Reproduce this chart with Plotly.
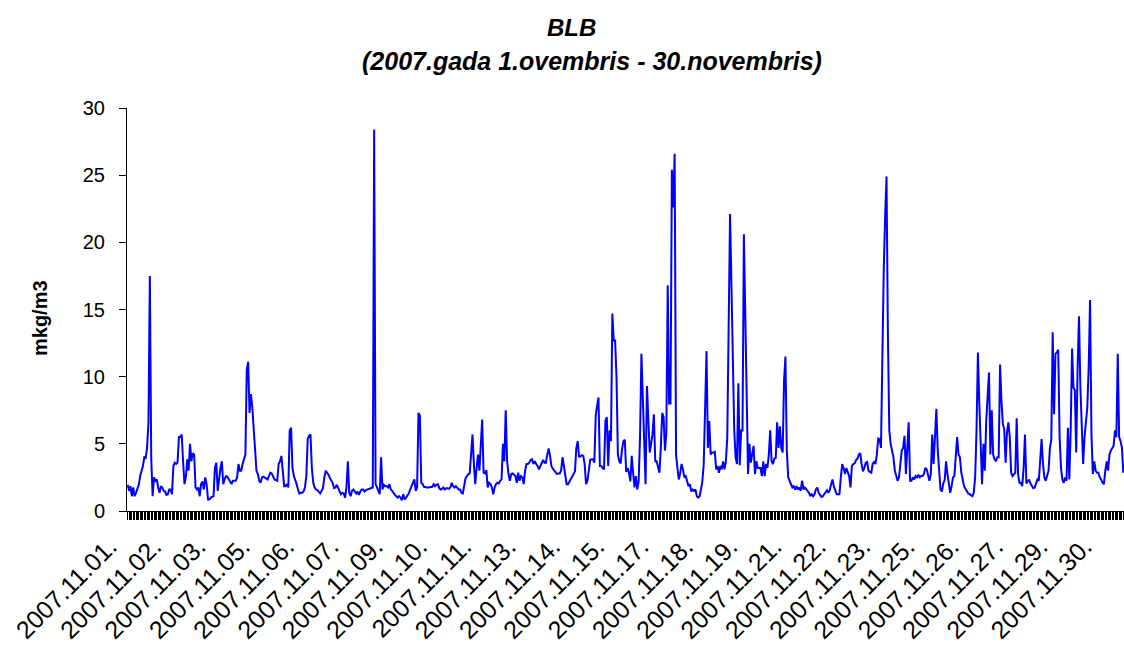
import plotly.graph_objects as go

# Hourly concentrations, 2007-11-01 .. 2007-11-30 (24 values per day)
day01 = [1.95, 1.5, 1.85, 1.1, 1.75, 1.1, 1.35, 1.6, 1.95, 2.6, 3.0, 3.35, 4.0, 3.95, 4.7, 6.6, 17.5, 3.95, 1.1, 2.5, 2.25, 2.35, 1.75, 1.35]
day02 = [1.85, 1.75, 1.5, 1.45, 1.2, 1.25, 1.6, 1.6, 1.25, 3.35, 3.6, 3.5, 3.6, 5.5, 5.5, 5.7, 3.7, 2.0, 2.5, 3.85, 3.0, 5.0, 3.7, 4.3]
day03 = [4.2, 1.75, 1.6, 1.75, 1.1, 2.0, 2.2, 1.6, 2.5, 2.0, 0.85, 0.85, 1.0, 1.05, 1.1, 3.2, 3.6, 1.5, 2.6, 3.2, 3.7, 2.0, 2.35, 2.6]
day04 = [2.55, 2.35, 2.1, 2.0, 2.25, 2.25, 2.25, 2.5, 3.5, 3.0, 3.0, 3.5, 3.95, 4.2, 10.5, 11.1, 7.3, 8.7, 7.7, 6.2, 4.5, 3.0, 2.75, 2.25]
day05 = [2.1, 2.5, 2.55, 2.5, 2.45, 2.35, 2.6, 2.85, 2.8, 2.6, 2.35, 2.3, 2.25, 3.5, 3.7, 4.1, 2.75, 1.85, 1.85, 2.0, 1.75, 6.0, 6.2, 3.2]
day06 = [2.6, 2.35, 2.0, 1.6, 1.3, 1.35, 1.35, 1.45, 1.75, 2.6, 5.35, 5.6, 5.7, 3.2, 2.1, 1.75, 1.6, 1.55, 1.45, 1.3, 1.5, 1.7, 2.5, 3.0]
day07 = [2.85, 2.7, 2.45, 2.3, 2.1, 1.7, 1.75, 1.95, 1.75, 1.5, 1.25, 1.35, 1.3, 1.0, 1.75, 3.7, 1.35, 1.1, 1.5, 1.6, 1.45, 1.3, 1.45, 1.2]
day08 = [1.45, 1.6, 1.6, 1.45, 1.55, 1.6, 1.6, 1.7, 1.75, 1.75, 28.4, 2.0, 1.75, 1.5, 1.25, 4.0, 1.6, 1.95, 1.85, 1.85, 1.75, 2.0, 1.6, 1.5]
day09 = [1.3, 1.2, 1.1, 1.0, 1.1, 1.0, 0.8, 1.25, 0.85, 1.0, 1.1, 1.3, 1.6, 1.85, 2.1, 2.35, 1.5, 1.75, 7.3, 7.1, 2.1, 2.0, 1.8, 1.75]
day10 = [1.75, 1.75, 1.75, 1.75, 1.8, 2.0, 1.85, 1.95, 2.0, 1.7, 1.6, 1.65, 1.75, 1.6, 1.7, 1.7, 1.65, 1.75, 2.1, 1.85, 1.75, 1.85, 1.75, 1.6]
day11 = [1.6, 1.35, 1.3, 2.0, 2.45, 2.6, 2.75, 2.8, 4.7, 5.7, 3.5, 2.0, 3.2, 4.2, 3.0, 4.5, 6.8, 2.85, 2.8, 3.05, 1.75, 2.1, 2.0, 1.75]
day12 = [1.25, 1.75, 2.0, 2.1, 2.05, 2.25, 2.35, 5.0, 3.7, 7.5, 3.7, 2.75, 2.25, 2.75, 2.8, 2.7, 2.6, 2.1, 2.85, 2.25, 2.6, 2.5, 2.0, 3.0]
day13 = [3.5, 3.5, 3.6, 3.8, 3.85, 3.5, 3.7, 3.5, 3.35, 3.1, 3.3, 3.55, 3.8, 3.6, 3.6, 4.2, 4.65, 4.1, 3.35, 3.15, 3.0, 2.85, 2.75, 2.8]
day14 = [2.8, 3.0, 4.0, 3.35, 2.6, 2.0, 2.0, 2.2, 2.45, 2.6, 2.8, 2.95, 4.7, 5.2, 4.0, 4.05, 4.15, 4.1, 3.5, 2.0, 2.25, 3.0, 3.8, 3.85]
day15 = [3.85, 3.6, 7.1, 7.85, 8.45, 3.35, 3.35, 3.2, 3.1, 6.7, 7.0, 3.35, 6.0, 5.2, 14.7, 12.7, 12.7, 10.0, 4.2, 3.7, 3.55, 4.6, 5.2, 5.3]
day16 = [2.9, 3.2, 2.85, 2.2, 4.1, 2.85, 1.75, 2.6, 1.6, 2.2, 5.5, 11.7, 8.7, 5.6, 2.0, 9.3, 6.7, 4.35, 5.0, 5.7, 7.2, 3.7, 3.7, 3.2]
day17 = [2.85, 4.7, 7.3, 7.0, 4.5, 5.8, 16.8, 8.0, 8.0, 25.4, 22.6, 26.6, 4.2, 3.2, 2.35, 2.8, 3.5, 3.1, 2.5, 2.6, 2.1, 1.85, 2.0, 1.45]
day18 = [1.6, 1.5, 1.6, 1.1, 1.0, 1.1, 1.6, 2.2, 3.5, 8.5, 11.9, 4.7, 6.7, 4.2, 4.35, 4.35, 4.4, 3.1, 3.35, 2.85, 3.35, 3.1, 3.7, 3.1]
day19 = [3.7, 5.5, 13.2, 22.1, 16.9, 11.2, 6.1, 4.0, 3.5, 9.5, 3.4, 6.0, 6.0, 20.6, 14.4, 7.0, 2.75, 5.0, 3.6, 4.2, 4.85, 2.75, 3.7, 3.2]
day20 = [3.2, 3.2, 2.6, 3.7, 2.6, 3.5, 3.2, 4.2, 6.0, 3.7, 3.5, 3.9, 3.95, 6.6, 4.7, 6.3, 4.7, 4.35, 9.7, 11.5, 4.5, 2.5, 2.25, 2.0]
day21 = [1.75, 1.85, 1.6, 1.85, 1.6, 1.75, 1.5, 2.25, 1.6, 1.75, 1.6, 1.45, 1.35, 1.1, 1.25, 1.1, 1.25, 1.6, 1.75, 1.35, 1.2, 1.05, 1.1, 1.25]
day22 = [1.45, 1.55, 1.35, 1.55, 2.0, 2.35, 1.8, 1.5, 1.25, 1.25, 1.25, 2.5, 3.5, 3.2, 2.75, 3.2, 2.95, 2.6, 1.75, 3.35, 3.5, 3.55, 3.8, 3.9]
day23 = [4.2, 4.3, 3.5, 2.95, 3.2, 3.6, 3.65, 3.0, 2.9, 2.85, 3.5, 3.65, 3.5, 4.2, 5.4, 5.35, 4.7, 11.9, 18.0, 21.9, 24.9, 13.2, 6.0, 5.0]
day24 = [4.5, 4.0, 3.0, 2.5, 2.25, 2.5, 3.6, 4.5, 4.7, 5.6, 2.75, 4.7, 6.6, 2.25, 2.25, 2.5, 2.35, 2.6, 2.5, 2.7, 2.5, 2.6, 2.6, 2.75]
day25 = [3.2, 3.1, 2.6, 2.25, 2.75, 5.7, 3.5, 5.5, 7.6, 4.5, 3.0, 1.6, 1.45, 2.05, 2.3, 3.7, 2.75, 2.05, 1.35, 1.85, 2.5, 2.6, 4.0, 5.5]
day26 = [4.2, 4.0, 2.85, 2.25, 1.85, 1.65, 1.5, 1.3, 1.25, 1.15, 1.1, 1.35, 2.5, 6.0, 11.8, 8.0, 4.7, 2.0, 5.0, 3.0, 6.7, 8.2, 10.3, 4.2]
day27 = [7.5, 4.2, 3.85, 3.7, 4.0, 4.0, 10.9, 8.2, 6.5, 6.1, 3.6, 5.85, 6.6, 5.5, 2.85, 2.6, 2.75, 2.85, 6.9, 2.75, 2.1, 2.1, 1.85, 3.2]
day28 = [5.7, 2.05, 2.25, 2.3, 2.05, 1.85, 1.7, 1.75, 2.1, 2.35, 2.25, 4.0, 5.35, 3.5, 2.5, 2.25, 2.55, 3.0, 4.7, 5.3, 13.3, 7.2, 11.7, 11.8]
day29 = [12.0, 5.5, 3.2, 2.35, 2.1, 2.5, 2.25, 6.2, 2.35, 6.0, 12.1, 9.2, 9.0, 4.35, 10.7, 14.5, 9.2, 5.7, 3.5, 5.5, 6.7, 7.7, 10.7, 15.7]
day30 = [5.7, 2.75, 3.7, 3.0, 2.85, 2.85, 2.5, 2.35, 2.1, 2.0, 3.0, 3.7, 3.0, 4.2, 4.5, 4.7, 4.85, 6.0, 5.5, 11.7, 5.5, 5.2, 4.7, 2.85]

values = (day01 + day02 + day03 + day04 + day05 + day06 + day07 + day08 + day09 + day10
          + day11 + day12 + day13 + day14 + day15 + day16 + day17 + day18 + day19 + day20
          + day21 + day22 + day23 + day24 + day25 + day26 + day27 + day28 + day29 + day30)
hours = list(range(len(values)))

# Category labels shown on the axis (every 32nd hourly category)
tick_labels = ["2007.11.01.", "2007.11.02.", "2007.11.03.", "2007.11.05.", "2007.11.06.",
               "2007.11.07.", "2007.11.09.", "2007.11.10.", "2007.11.11.", "2007.11.13.",
               "2007.11.14.", "2007.11.15.", "2007.11.17.", "2007.11.18.", "2007.11.19.",
               "2007.11.21.", "2007.11.22.", "2007.11.23.", "2007.11.25.", "2007.11.26.",
               "2007.11.27.", "2007.11.29.", "2007.11.30."]
label_step = 32
y_ticks = [0, 5, 10, 15, 20, 25, 30]

ticktext = ["" for _ in hours]
for k, lab in enumerate(tick_labels):
    ticktext[k * label_step] = lab

FONT = "Liberation Sans, Arial, sans-serif"

fig = go.Figure()
fig.add_trace(go.Scatter(x=hours, y=values, mode="lines",
                         line=dict(color="#0000FF", width=2), showlegend=False,
                         hoverinfo="skip"))

fig.update_layout(
    width=1124, height=649,
    margin=dict(l=127, r=0, t=108, b=138, pad=0),
    paper_bgcolor="white", plot_bgcolor="white",
    font=dict(family=FONT, color="black"),
    showlegend=False,
)

fig.update_xaxes(
    range=[-0.5, len(values) - 0.5],
    tickmode="array", tickvals=hours, ticktext=ticktext,
    ticks="outside", ticklen=8, tickwidth=1, tickcolor="black",
    tickangle=-45, tickfont=dict(size=25, family=FONT, color="black"),
    ticklabelstandoff=2, ticklabelshift=-18,
    showline=True, linecolor="black", linewidth=1,
    showgrid=False, zeroline=False, automargin=False,
)
fig.update_yaxes(
    range=[0, 30], tickmode="array", tickvals=y_ticks,
    ticks="outside", ticklen=7, tickwidth=1, tickcolor="black",
    tickfont=dict(size=20, family=FONT, color="black"),
    ticklabelstandoff=10,
    showline=True, linecolor="black", linewidth=1,
    showgrid=False, zeroline=False, automargin=False,
)

fig.add_annotation(text="BLB", xref="paper", yref="paper",
                   x=(571 - 127) / 997, y=1 + (108 - 28) / 403,
                   xanchor="center", yanchor="middle", showarrow=False,
                   font=dict(size=24, family=FONT, color="black", weight="bold", style="italic"))
fig.add_annotation(text="(2007.gada 1.ovembris - 30.novembris)", xref="paper", yref="paper",
                   x=(592 - 127) / 997, y=1 + (108 - 61) / 403,
                   xanchor="center", yanchor="middle", showarrow=False,
                   font=dict(size=25, family=FONT, color="black", weight="bold", style="italic"))
fig.add_annotation(text="mkg/m3", xref="paper", yref="paper",
                   x=(40 - 127) / 997, y=(511 - 318) / 403, textangle=-90,
                   xanchor="center", yanchor="middle", showarrow=False,
                   font=dict(size=20, family=FONT, color="black", weight="bold"))

fig.write_html("out.html", config={"displayModeBar": False},
               post_script="document.body.style.margin='0px';document.body.style.padding='0px';")
